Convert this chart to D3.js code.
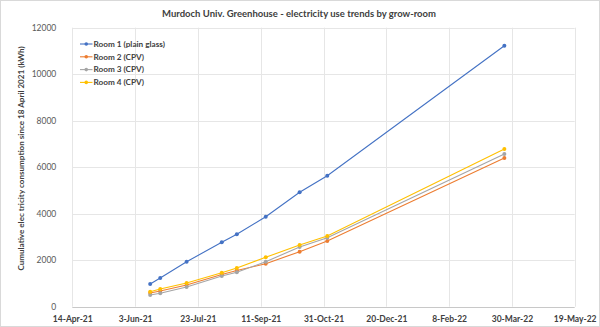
<!DOCTYPE html>
<html>
<head>
<meta charset="utf-8">
<script src="https://cdn.jsdelivr.net/npm/d3@7"></script>
<style>
  html, body { margin: 0; padding: 0; background: #fff; }
  svg { display: block; font-family: Lato, "Open Sans", sans-serif; }
</style>
</head>
<body>
<svg id="chart" width="600" height="327"></svg>
<script>
// Reading dates (cumulative meter readings)
const readingDates = ["2021-06-15", "2021-06-23", "2021-07-14", "2021-08-11", "2021-08-23",
                      "2021-09-15", "2021-10-12", "2021-11-03", "2022-03-24"];

// Cumulative kWh since 18 April 2021, per grow-room
const room1 = [976, 1234, 1935, 2770, 3114, 3871, 4920, 5634, 11226];
const room2 = [590, 675, 933, 1385, 1557, 1850, 2366, 2826, 6396];
const room3 = [503, 576, 847, 1320, 1480, 1935, 2568, 2968, 6568];
const room4 = [645, 761, 1019, 1462, 1665, 2125, 2654, 3041, 6783];

const seriesNames = ["Room 1 (plain glass)", "Room 2 (CPV)", "Room 3 (CPV)", "Room 4 (CPV)"];
const seriesColors = ["#4472C4", "#ED7D31", "#A5A5A5", "#FFC000"];

const xTickLabels = ["14-Apr-21", "3-Jun-21", "23-Jul-21", "11-Sep-21", "31-Oct-21",
                     "20-Dec-21", "8-Feb-22", "30-Mar-22", "19-May-22"];
const yTickValues = [0, 2000, 4000, 6000, 8000, 10000, 12000];

const titleText = "Murdoch Univ. Greenhouse - electricity use trends by grow-room";
const yTitleText = "Cumulative elec tricity consumption since 18 April 2021 (kWh)";

const parseISO = d3.timeParse("%Y-%m-%d");
const parseTick = d3.timeParse("%d-%b-%y");
const xTicks = xTickLabels.map(parseTick);
const dates = readingDates.map(parseISO);

const svg = d3.select("#chart");
const W = 600, H = 327;
const plot = { left: 72.3, right: 574.7, top: 27.7, bottom: 306.7 };

// outer frame
svg.append("rect")
  .attr("x", 0.5).attr("y", 0.5).attr("width", W - 1).attr("height", H - 1)
  .attr("fill", "#fff").attr("stroke", "#d9d9d9");

const x = d3.scaleTime()
  .domain([xTicks[0], xTicks[xTicks.length - 1]])
  .range([plot.left, plot.right]);
const y = d3.scaleLinear()
  .domain([0, 12000])
  .range([plot.bottom, plot.top]);

// gridlines
const grid = svg.append("g").attr("stroke", "#e6e6e6").attr("stroke-width", 1);
grid.selectAll("line.h").data(yTickValues.slice(1)).join("line")
  .attr("x1", plot.left).attr("x2", plot.right)
  .attr("y1", d => Math.round(y(d)) + 0.5).attr("y2", d => Math.round(y(d)) + 0.5);
grid.selectAll("line.v").data(xTicks).join("line")
  .attr("x1", d => Math.round(x(d)) + 0.5).attr("x2", d => Math.round(x(d)) + 0.5)
  .attr("y1", plot.top).attr("y2", plot.bottom);

// y axis labels
const yAxis = d3.axisLeft(y).tickValues(yTickValues).tickSize(0).tickPadding(0).tickFormat(d3.format("d"));
const yg = svg.append("g").attr("transform", `translate(${plot.left - 16},0)`).call(yAxis);
yg.select(".domain").remove();
yg.selectAll("text").attr("fill", "#595959").style("font-size", "8.5px").style("font-family", "Lato, sans-serif");

// x axis
const xAxis = d3.axisBottom(x).tickValues(xTicks).tickSize(0).tickPadding(8)
  .tickFormat((d, i) => xTickLabels[i]);
const xg = svg.append("g").attr("transform", `translate(0,${Math.round(plot.bottom) + 0.5})`).call(xAxis);
xg.select(".domain").attr("stroke", "#c8c8c8").attr("d", `M${plot.left},0H${plot.right}`);
xg.selectAll("text").attr("fill", "#404040").style("font-size", "8.5px")
  .style("font-weight", "bold").style("font-family", "Lato, sans-serif");

// series lines
const allSeries = [room1, room2, room3, room4];
const line = d3.line().x((d, i) => x(dates[i])).y(d => y(d));
allSeries.forEach((vals, s) => {
  const g = svg.append("g");
  g.append("path").datum(vals)
    .attr("d", line).attr("fill", "none")
    .attr("stroke", seriesColors[s]).attr("stroke-width", 1.1);
  g.selectAll("circle").data(vals).join("circle")
    .attr("cx", (d, i) => x(dates[i])).attr("cy", d => y(d))
    .attr("r", 2).attr("fill", seriesColors[s]);
});

// legend
const legend = svg.append("g").attr("transform", "translate(80,44)");
seriesNames.forEach((name, i) => {
  const row = legend.append("g").attr("transform", `translate(0,${i * 12.8})`);
  row.append("line").attr("x1", 0).attr("x2", 12.5).attr("y1", 0).attr("y2", 0)
    .attr("stroke", seriesColors[i]).attr("stroke-width", 1.1);
  row.append("circle").attr("cx", 6.25).attr("cy", 0).attr("r", 1.8).attr("fill", seriesColors[i]);
  row.append("text").attr("x", 13.5).attr("y", 0).attr("dy", "0.35em")
    .attr("fill", "#404040").style("font-size", "8.2px").style("font-weight", "bold")
    .text(name);
});

// title
svg.append("text").attr("x", 299).attr("y", 13.5).attr("dy", "0.35em")
  .attr("text-anchor", "middle").attr("fill", "#404040")
  .style("font-size", "9.5px").style("font-weight", "bold")
  .text(titleText);

// y axis title
svg.append("text")
  .attr("transform", "translate(21,158.5) rotate(-90)")
  .attr("text-anchor", "middle").attr("dy", "0.35em")
  .attr("fill", "#404040").style("font-size", "8.1px").style("font-weight", "bold")
  .text(yTitleText);
</script>
</body>
</html>
